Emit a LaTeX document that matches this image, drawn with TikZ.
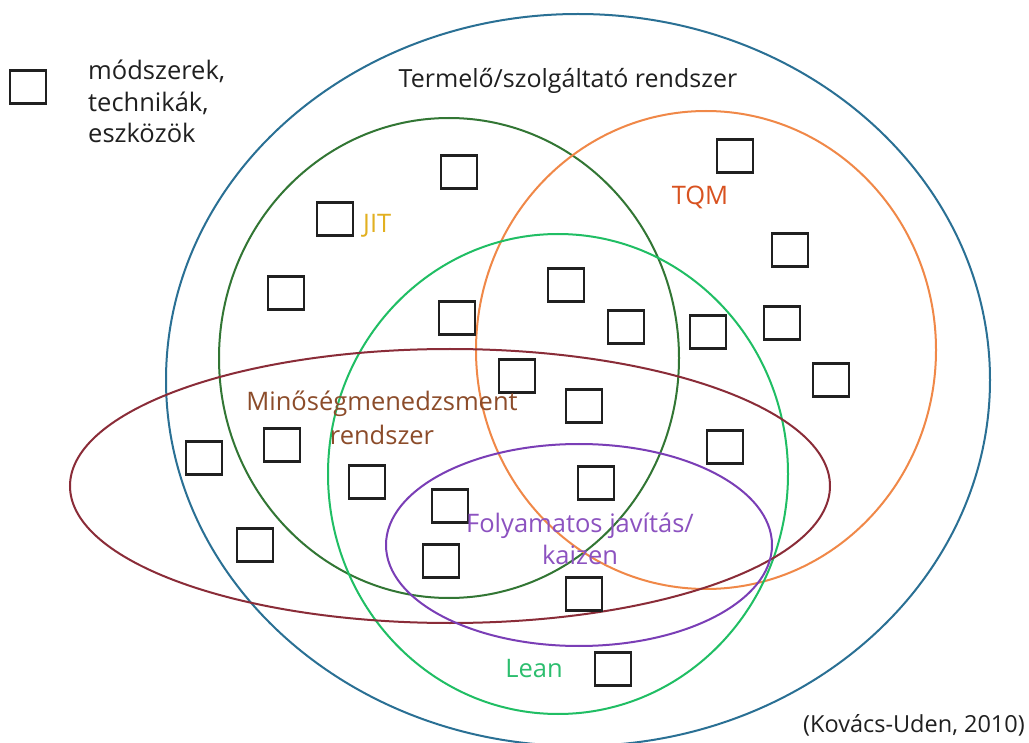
\documentclass[tikz,border=0pt]{standalone}
\usepackage{fontspec}
\setmainfont{Open Sans}
\definecolor{sysblue}{RGB}{42,112,148}
\definecolor{jitgreen}{RGB}{50,118,52}
\definecolor{tqmorange}{RGB}{240,136,72}
\definecolor{leangreen}{RGB}{32,190,100}
\definecolor{qmsbrown}{RGB}{138,44,56}
\definecolor{kaizenpurple}{RGB}{122,62,182}
\definecolor{jittext}{RGB}{226,176,32}
\definecolor{tqmtext}{RGB}{216,82,32}
\definecolor{qmstext}{RGB}{140,76,42}
\definecolor{kaizentext}{RGB}{140,82,192}
\definecolor{leantext}{RGB}{44,190,110}
\definecolor{inkgray}{RGB}{32,32,32}
\begin{document}
\begin{tikzpicture}[x=1pt,y=-1pt,
  box/.style={draw=inkgray, line width=2.2pt, minimum width=36pt, minimum height=33pt, inner sep=0pt},
  lbl/.style={font=\fontsize{25.5}{34}\selectfont, inner sep=0pt, anchor=base, align=center}]
\clip (0,0) rectangle (1029,743);
\fill[white] (0,0) rectangle (1029,743);
% sets
\draw[sysblue, line width=2pt] (578,380) ellipse [x radius=412pt, y radius=366pt];
\draw[jitgreen, line width=2pt] (449,358) ellipse [x radius=230pt, y radius=240pt];
\draw[tqmorange, line width=2pt] (706,350) ellipse [x radius=230pt, y radius=239pt];
\draw[leangreen, line width=2pt] (558,474) ellipse [x radius=230pt, y radius=240pt];
\draw[qmsbrown, line width=2pt] (450,486) ellipse [x radius=380pt, y radius=137pt];
\draw[kaizenpurple, line width=2pt] (579,545) ellipse [x radius=193pt, y radius=101pt];
% methods, techniques, tools
\foreach \n/\x/\y in {1/459/172, 2/735/156, 3/335/219, 4/286/293, 5/790/250,
  6/566/285, 7/457/318, 8/626/327, 9/708/332, 10/782/323, 11/517/376,
  12/831/380, 13/584/406, 14/204/458, 15/282/445, 16/725/447, 17/367/482,
  18/596/483, 19/450/506, 20/255/545, 21/441/561, 22/584/594, 23/613/669}
  \node[box] (sq\n) at (\x,\y) {};
% legend
\node[box] (legendbox) at (28,87) {};
\node[lbl, font=\fontsize{25.5}{31.5}\selectfont, anchor=base west, align=left, text=inkgray]
  (legendtext) at (88,143) {módszerek,\\technikák,\\eszközök};
% labels
\node[lbl, font=\fontsize{25}{30}\selectfont, text=inkgray] (title) at (568,88) {Termelő/szolgáltató rendszer};
\node[lbl, anchor=base west, text=jittext] (jit) at (363,233) {JIT};
\node[lbl, text=tqmtext] (tqm) at (700,205) {TQM};
\node[lbl, font=\fontsize{25.5}{35}\selectfont, text=qmstext] (qms) at (382,445) {Minőségmenedzsment\\rendszer};
\node[lbl, font=\fontsize{25.5}{32}\selectfont, text=kaizentext] (kaizen) at (580,564) {Folyamatos javítás/\\kaizen};
\node[lbl, text=leantext] (lean) at (534,677) {Lean};
\node[lbl, font=\fontsize{23.5}{28}\selectfont, anchor=base east, text=inkgray] (source) at (1025,732) {(Kovács-Uden, 2010)};
\end{tikzpicture}
\end{document}
